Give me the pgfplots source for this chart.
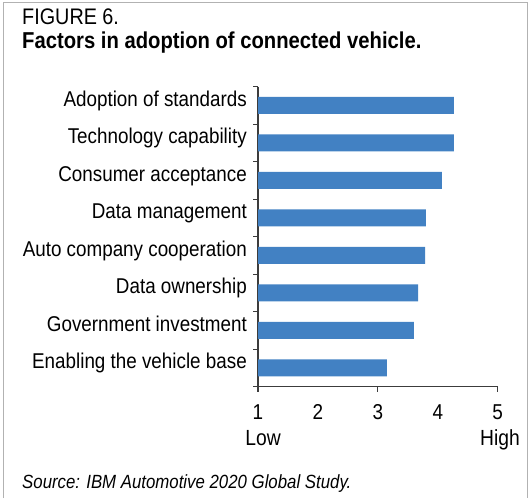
\documentclass[border=0pt]{standalone}
\usepackage{fontspec}
\setmainfont{Liberation Sans}[FakeStretch=0.88]
\usepackage{pgfplots}
\pgfplotsset{compat=1.18}
\definecolor{barblue}{RGB}{66,129,195}
\definecolor{axisgray}{RGB}{60,60,60}

\begin{document}
\begin{tikzpicture}
  \useasboundingbox (0pt,0pt) rectangle (529pt,498pt);
  % frame
  \draw[gray!60, line width=1pt] (3.5pt,0pt) -- (3.5pt,495.5pt) -- (527pt,495.5pt) -- (527pt,0pt);

  % heading
  \node[anchor=base west, inner sep=0pt, font=\fontsize{22.5}{24}\selectfont] at (22pt,473pt) {FIGURE 6.};
  \node[anchor=base west, inner sep=0pt, font=\fontsize{23}{24}\selectfont\bfseries] at (22pt,449pt) {Factors in adoption of connected vehicle.};

  \begin{axis}[
      at={(258pt,111.3pt)}, anchor=south west,
      scale only axis,
      width=239.7pt, height=300pt,
      xmin=1, xmax=5,
      ymin=0.5, ymax=8.5,
      y dir=reverse,
      axis x line*=bottom,
      axis y line*=left,
      axis line style={axisgray, line width=1.2pt},
      xbar,
      bar width=17pt,
      xtick={1,2,3,4,5},
      xticklabels={1,2,3,4,5},
      ytick={1,...,8},
      yticklabels={Adoption of standards, Technology capability, Consumer acceptance, Data management, Auto company cooperation, Data ownership, Government investment, Enabling the vehicle base},
      major tick length=0pt,
      tick style={axisgray, line width=1.2pt},
      extra x ticks={1,3,5},
      extra x tick labels={},
      extra y ticks={0.5,1.5,...,8.5},
      extra y tick labels={},
      extra tick style={major tick length=5pt, tick align=outside},
      xticklabel style={anchor=base, inner sep=0pt, yshift=-32.6pt, font=\fontsize{21.5}{24}\selectfont},
      yticklabel style={anchor=base east, inner sep=0pt, xshift=-11pt, yshift=-1pt, font=\fontsize{21.4}{24}\selectfont},
      clip=true,
    ]
    \addplot[fill=barblue, draw=none] coordinates {
      (4.27,1) (4.27,2) (4.07,3) (3.80,4) (3.79,5) (3.67,6) (3.60,7) (3.15,8)
    };
  \end{axis}

  \node[anchor=base, inner sep=0pt, font=\fontsize{21.9}{24}\selectfont] at (263pt,53pt) {Low};
  \node[anchor=base, inner sep=0pt, font=\fontsize{21.9}{24}\selectfont] at (500pt,53pt) {High};

  \node[anchor=base west, inner sep=0pt, font=\fontsize{19.1}{22}\selectfont\itshape] at (22pt,10pt) {Source: IBM Automotive 2020 Global Study.};
\end{tikzpicture}
\end{document}
